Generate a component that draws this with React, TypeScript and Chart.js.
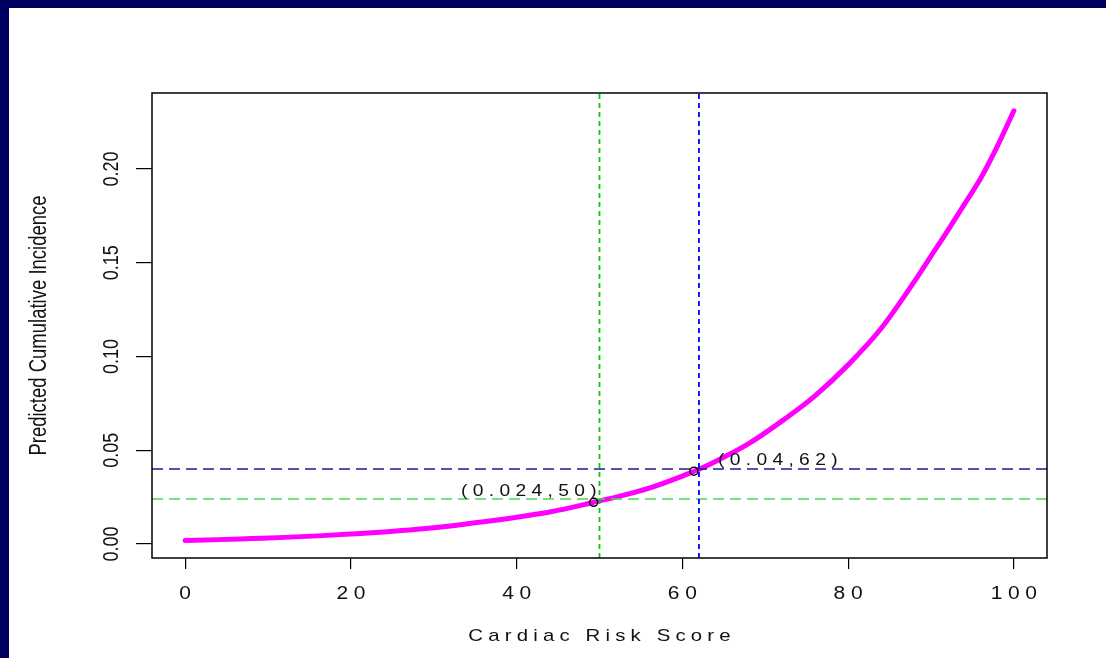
import React, { useEffect, useRef } from "react";
import { Chart, registerables } from "chart.js";

Chart.register(...registerables);

// ---- data ----
const riskScore = [0, 4, 8, 12, 16, 20, 24, 28, 32, 36, 40, 44, 48, 50, 52, 56, 60, 62, 64, 68, 72, 76, 80, 84, 88, 90, 92, 94, 96, 98, 100];
const incidence = [0.0018, 0.0023, 0.0029, 0.0035, 0.0043, 0.0053, 0.0064, 0.0078, 0.0096, 0.0118, 0.0142, 0.0170, 0.0208, 0.0230, 0.0250, 0.0298, 0.0362, 0.0398, 0.0440, 0.0535, 0.0655, 0.0790, 0.0955, 0.1150, 0.1400, 0.1535, 0.1670, 0.1810, 0.1950, 0.2120, 0.2310];

const markerScore = [49.3, 61.4];
const markerIncidence = [0.0222, 0.0388];
const markerLabels = ["(0.024,50)", "(0.04,62)"];

const cutScores = [50, 62];
const cutIncidence = [0.024, 0.04];

const xTicks = [0, 20, 40, 60, 80, 100];
const xTickLabels = ["0", "20", "40", "60", "80", "100"];
const yTicks = [0, 0.05, 0.1, 0.15, 0.2];
const yTickLabels = ["0.00", "0.05", "0.10", "0.15", "0.20"];

const xTitle = "Cardiac Risk Score";
const yTitle = "Predicted Cumulative Incidence";

const X_MIN = -4;
const X_MAX = 104;
const Y_MIN = -0.0075;
const Y_MAX = 0.2405;

const FONT = '"Liberation Sans", Arial, Helvetica, sans-serif';

function spacedText(
  ctx: CanvasRenderingContext2D,
  text: string,
  x: number,
  y: number,
  size: number,
  sx: number,
  spacing: number,
  align: "left" | "center" | "right"
) {
  ctx.save();
  ctx.font = `${size}px ${FONT}`;
  (ctx as any).letterSpacing = spacing + "px";
  ctx.textAlign = "left";
  ctx.textBaseline = "alphabetic";
  const hasLS = typeof (ctx as any).letterSpacing === "string" && (ctx as any).letterSpacing !== "0px";
  const raw = ctx.measureText(text).width;
  const w = (raw - (hasLS ? spacing : 0)) * sx;
  const left = align === "center" ? x - w / 2 : align === "right" ? x - w : x;
  ctx.translate(left, y);
  ctx.scale(sx, 1);
  ctx.fillText(text, 0, 0);
  ctx.restore();
}

function rotatedText(
  ctx: CanvasRenderingContext2D,
  text: string,
  cx: number,
  cy: number,
  size: number,
  sy: number
) {
  ctx.save();
  ctx.font = `${size}px ${FONT}`;
  ctx.textAlign = "center";
  ctx.textBaseline = "alphabetic";
  ctx.translate(cx + 0.358 * size * sy, cy);
  ctx.rotate(-Math.PI / 2);
  ctx.scale(1, sy);
  ctx.fillText(text, 0, 0);
  ctx.restore();
}

const decorPlugin = {
  id: "rDecor",
  afterDraw(chart: any) {
    const ctx: CanvasRenderingContext2D = chart.ctx;
    const area = chart.chartArea;
    const xs = chart.scales.x;
    const ys = chart.scales.y;

    // box
    ctx.save();
    ctx.strokeStyle = "#000";
    ctx.lineWidth = 1.5;
    ctx.strokeRect(area.left, area.top, area.right - area.left, area.bottom - area.top);
    ctx.restore();

    ctx.fillStyle = "#111";

    // x tick labels
    xTicks.forEach((v, i) => {
      spacedText(ctx, xTickLabels[i], xs.getPixelForValue(v), area.bottom + 41, 17.5, 1.2, 4.7, "center");
    });
    // y tick labels (rotated)
    yTicks.forEach((v, i) => {
      rotatedText(ctx, yTickLabels[i], area.left - 42, ys.getPixelForValue(v), 18, 1.25);
    });
    // axis titles
    spacedText(ctx, xTitle, (area.left + area.right) / 2, area.bottom + 83, 17, 1.2, 4.3, "center");
    rotatedText(ctx, yTitle, area.left - 114, (area.top + area.bottom) / 2, 18.5, 1.25);

    // point annotations
    const p0x = xs.getPixelForValue(markerScore[0]);
    const p0y = ys.getPixelForValue(markerIncidence[0]);
    spacedText(ctx, markerLabels[0], p0x + 3, p0y - 6, 16, 1.2, 4.45, "right");
    const p1x = xs.getPixelForValue(markerScore[1]);
    const p1y = ys.getPixelForValue(markerIncidence[1]);
    spacedText(ctx, markerLabels[1], p1x + 24, p1y - 6, 16, 1.2, 4.45, "left");
  },
};

export default function App() {
  const ref = useRef<HTMLCanvasElement | null>(null);

  useEffect(() => {
    if (!ref.current) return;
    const curve = riskScore.map((x, i) => ({ x, y: incidence[i] }));
    const markers = markerScore.map((x, i) => ({ x, y: markerIncidence[i] }));

    const chart = new Chart(ref.current, {
      type: "line",
      data: {
        datasets: [
          {
            label: "points",
            data: markers,
            showLine: false,
            pointRadius: 4,
            pointBorderWidth: 1.4,
            pointBorderColor: "#000",
            pointBackgroundColor: "rgba(0,0,0,0)",
            pointStyle: "circle",
          },
          {
            label: "v50",
            data: [
              { x: cutScores[0], y: Y_MIN },
              { x: cutScores[0], y: Y_MAX },
            ],
            borderColor: "#00CC00",
            borderWidth: 1.8,
            borderDash: [5, 4],
            pointRadius: 0,
          },
          {
            label: "v62",
            data: [
              { x: cutScores[1], y: Y_MIN },
              { x: cutScores[1], y: Y_MAX },
            ],
            borderColor: "#0000FF",
            borderWidth: 1.8,
            borderDash: [5, 4],
            pointRadius: 0,
          },
          {
            label: "h024",
            data: [
              { x: X_MIN, y: cutIncidence[0] },
              { x: X_MAX, y: cutIncidence[0] },
            ],
            borderColor: "#4FD64F",
            borderWidth: 1.4,
            borderDash: [11, 6],
            pointRadius: 0,
          },
          {
            label: "h04",
            data: [
              { x: X_MIN, y: cutIncidence[1] },
              { x: X_MAX, y: cutIncidence[1] },
            ],
            borderColor: "#1E1E8C",
            borderWidth: 1.4,
            borderDash: [11, 6],
            pointRadius: 0,
          },
          {
            label: "curve",
            data: curve,
            borderColor: "#FF00FF",
            borderWidth: 5,
            pointRadius: 0,
            cubicInterpolationMode: "monotone",
            borderCapStyle: "round",
            borderJoinStyle: "round",
          },
        ],
      },
      options: {
        animation: false,
        responsive: false,
        events: [],
        layout: { padding: { top: 85, right: 59, left: 0, bottom: 0 } },
        plugins: {
          legend: { display: false },
          tooltip: { enabled: false },
          title: { display: false },
        },
        scales: {
          x: {
            type: "linear",
            min: X_MIN,
            max: X_MAX,
            afterBuildTicks: (s: any) => {
              s.ticks = xTicks.map((v) => ({ value: v }));
            },
            afterFit: (s: any) => {
              s.height = 100;
            },
            ticks: { display: false },
            grid: {
              display: true,
              drawOnChartArea: false,
              drawTicks: true,
              tickLength: 11,
              color: "#000",
              lineWidth: 1.2,
            },
            border: { display: false },
          },
          y: {
            type: "linear",
            min: Y_MIN,
            max: Y_MAX,
            afterBuildTicks: (s: any) => {
              s.ticks = yTicks.map((v) => ({ value: v }));
            },
            afterFit: (s: any) => {
              s.width = 143;
            },
            ticks: { display: false },
            grid: {
              display: true,
              drawOnChartArea: false,
              drawTicks: true,
              tickLength: 16,
              color: "#000",
              lineWidth: 1.2,
            },
            border: { display: false },
          },
        },
      },
      plugins: [decorPlugin],
    });
    return () => chart.destroy();
  }, []);

  return (
    <div
      style={{
        position: "fixed",
        left: 0,
        top: 0,
        width: 1106,
        height: 658,
        background: "#000060",
        overflow: "hidden",
      }}
    >
      <canvas
        ref={ref}
        width={1097}
        height={650}
        style={{ position: "absolute", left: 9, top: 8, width: 1097, height: 650, background: "#fff" }}
      />
    </div>
  );
}
